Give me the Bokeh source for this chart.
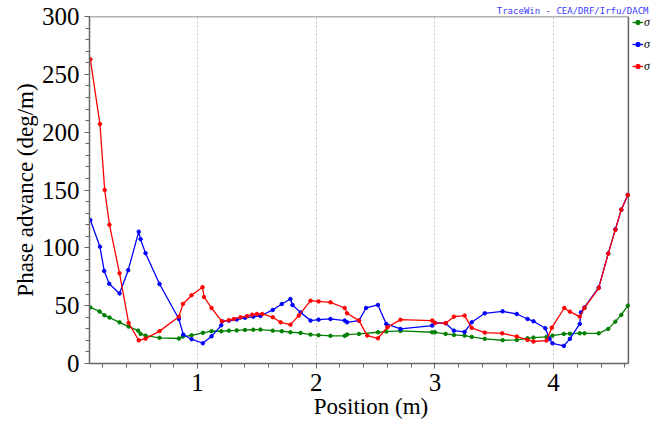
from bokeh.plotting import figure
from bokeh.models import (Range1d, SingleIntervalTicker, Legend, LegendItem, Title)
from bokeh.embed import file_html
from bokeh.resources import INLINE

# Phase advance per metre along the lattice, three planes
red_pos = [0.097, 0.178, 0.218, 0.258, 0.343, 0.420, 0.505, 0.562, 0.680, 0.843, 0.877, 0.950,
           1.042, 1.055, 1.118, 1.205, 1.264, 1.306, 1.362, 1.418, 1.46, 1.50, 1.545, 1.634, 1.70,
           1.783, 1.853, 1.952, 2.02, 2.12, 2.24, 2.26, 2.36, 2.43, 2.52, 2.60, 2.71, 2.977, 3.00,
           3.09, 3.16, 3.25, 3.31, 3.42, 3.567, 3.69, 3.78, 3.83, 3.94, 3.985, 4.09, 4.137, 4.22,
           4.26, 4.38, 4.46, 4.52, 4.57, 4.625]
red_val = [263, 207, 150, 120, 78, 35, 20, 21.5, 28, 40.5, 51.5, 59,
           66, 57.5, 48, 36.5, 37.5, 38.5, 39.9, 41, 42.2, 42.8, 42.8, 40, 35.6,
           33.6, 41.4, 54.3, 53.7, 52.9, 48, 43.4, 37.1, 24.1, 21.8, 31.3, 37.9, 37.1, 35.1,
           34.8, 40.5, 41.4, 30.8, 26.7, 26.1, 23.3, 20.4, 19, 19.8, 31, 48, 44.8, 40.5,
           48, 65.2, 95, 115.5, 133, 145.7]

blue_pos = [0.097, 0.178, 0.214, 0.256, 0.343, 0.416, 0.505, 0.52, 0.562, 0.68, 0.843, 0.88,
            0.95, 1.045, 1.118, 1.20, 1.208, 1.264, 1.33, 1.40, 1.47, 1.53, 1.634, 1.71, 1.783,
            1.80, 1.868, 1.952, 2.02, 2.12, 2.24, 2.26, 2.36, 2.42, 2.52, 2.59, 2.71, 2.977, 3.00,
            3.09, 3.16, 3.25, 3.31, 3.42, 3.57, 3.69, 3.78, 3.83, 3.93, 3.966, 3.99, 4.086, 4.137,
            4.22, 4.23, 4.26, 4.38, 4.46, 4.52, 4.57, 4.625]
blue_val = [124, 101, 80, 69, 60.6, 80.7, 114, 107.5, 95.4, 68.7, 38.5, 25,
            21, 17.5, 23.5, 33, 36.5, 37, 38, 39.5, 40.5, 41.1, 46.3, 51.4, 55.8,
            50.6, 44.2, 37.1, 37.9, 38.5, 37.1, 35.6, 37.1, 48, 50.6, 34.2, 29.9, 32.8, 35.1,
            34.8, 28.4, 27.3, 35.6, 43.4, 45.1, 42.8, 38.5, 36.5, 30.5, 21.3, 17.5, 15.2, 21.3,
            34.2, 44.2, 48.5, 65.8, 95, 116, 133, 145.7]

green_pos = [0.097, 0.175, 0.216, 0.259, 0.343, 0.42, 0.50, 0.52, 0.562, 0.68, 0.843, 0.876,
             0.95, 1.045, 1.118, 1.20, 1.264, 1.33, 1.40, 1.47, 1.53, 1.634, 1.71, 1.783, 1.868,
             1.952, 2.02, 2.12, 2.24, 2.26, 2.36, 2.52, 2.59, 2.71, 2.977, 3.00, 3.09, 3.16, 3.25,
             3.31, 3.42, 3.57, 3.69, 3.78, 3.83, 3.94, 3.99, 4.086, 4.137, 4.22, 4.26, 4.38, 4.46,
             4.52, 4.57, 4.625]
green_val = [48.5, 45, 41.7, 39.7, 35.6, 31.9, 28.4, 25.6, 24.1, 22.2, 21.6, 23.3,
             24.4, 26.5, 27.9, 27.9, 28.4, 28.6, 29, 29.2, 29.3, 28.4, 27.9, 27, 26.4,
             25, 24.5, 23.9, 23.9, 25, 25.6, 27, 27.6, 28.2, 27, 27, 25.6, 24.7, 24.1,
             23, 21.3, 20.1, 20.4, 21.8, 22.4, 23, 24.1, 25.6, 25.8, 26.1, 26.1, 26.1, 29.9,
             36.2, 42, 50]

series_labels = ["σ", "σ", "σ"]

X_START, X_END = 0.09, 4.63      # extent of the drawn axes box
Y_START, Y_END = 0, 300

SERIF = "'Liberation Serif', 'Times New Roman', serif"
FRAME = "#666666"

# the canvas frame runs to the right edge so the legend strip is not clipped;
# the visible box is closed at X_END with explicit border segments
p = figure(width=652, height=428, output_backend="svg", toolbar_location=None,
           x_range=Range1d(X_START, 4.833), y_range=Range1d(Y_START, Y_END),
           min_border_left=89, min_border_right=0, min_border_top=16, min_border_bottom=65)

p.background_fill_color = "white"
p.border_fill_color = "white"
p.outline_line_color = None

p.xaxis.ticker = SingleIntervalTicker(interval=1, num_minor_ticks=5)
p.yaxis.ticker = SingleIntervalTicker(interval=50, num_minor_ticks=5)
p.xaxis.bounds = (X_START, X_END)

for ax in (p.xaxis, p.yaxis):
    ax.axis_line_color = FRAME
    ax.axis_line_width = 1.5
    ax.major_tick_line_color = FRAME
    ax.minor_tick_line_color = FRAME
    ax.major_tick_out = 5
    ax.major_tick_in = 0
    ax.minor_tick_out = 4
    ax.minor_tick_in = 0
    ax.major_label_text_font = SERIF
    ax.major_label_text_font_size = "25px"
    ax.major_label_text_color = "black"
    ax.axis_label_text_font = SERIF
    ax.axis_label_text_font_size = "23px"
    ax.axis_label_text_font_style = "normal"
    ax.axis_label_text_color = "black"
    ax.major_label_standoff = 5

p.xaxis.axis_label = "Position (m)"
p.yaxis.axis_label = "Phase advance (deg/m)"
p.xaxis.axis_label_standoff = 0
p.yaxis.axis_label_standoff = 1

p.grid.grid_line_color = "#c8c8c8"
p.grid.grid_line_dash = "2 2"
p.grid.grid_line_width = 1
p.ygrid.bounds = (X_START, X_END)

# top and right edges of the axes box
p.segment(x0=[X_START, X_END], y0=[Y_END, Y_START], x1=[X_END, X_END], y1=[Y_END, Y_END],
          line_color=FRAME, line_width=1.5)

items = []
for xs, ys, color, lab in [(green_pos, green_val, "#008000", series_labels[0]),
                           (blue_pos, blue_val, "#0000ff", series_labels[1]),
                           (red_pos, red_val, "#ff0000", series_labels[2])]:
    ln = p.line(xs, ys, line_color=color, line_width=1.3)
    sc = p.scatter(xs, ys, size=3.5, fill_color=color, line_color=color, marker="circle")
    items.append(LegendItem(label=lab, renderers=[ln, sc]))

legend = Legend(items=items, location=(543, 287), orientation="vertical",
                background_fill_alpha=0, border_line_alpha=0, padding=0, margin=0,
                spacing=2, glyph_width=11, glyph_height=20, label_height=20,
                label_standoff=1, label_text_font=SERIF, label_text_font_size="12px",
                label_text_font_style="italic", label_text_color="black")
p.add_layout(legend)

p.add_layout(Title(text="TraceWin - CEA/DRF/Irfu/DACM", align="right",
                   text_font="DejaVu Sans Mono", text_font_size="9px",
                   text_font_style="normal", text_color="#3a3aff",
                   standoff=1, offset=4), "above")

open("out.html", "w").write(file_html(p, INLINE))
